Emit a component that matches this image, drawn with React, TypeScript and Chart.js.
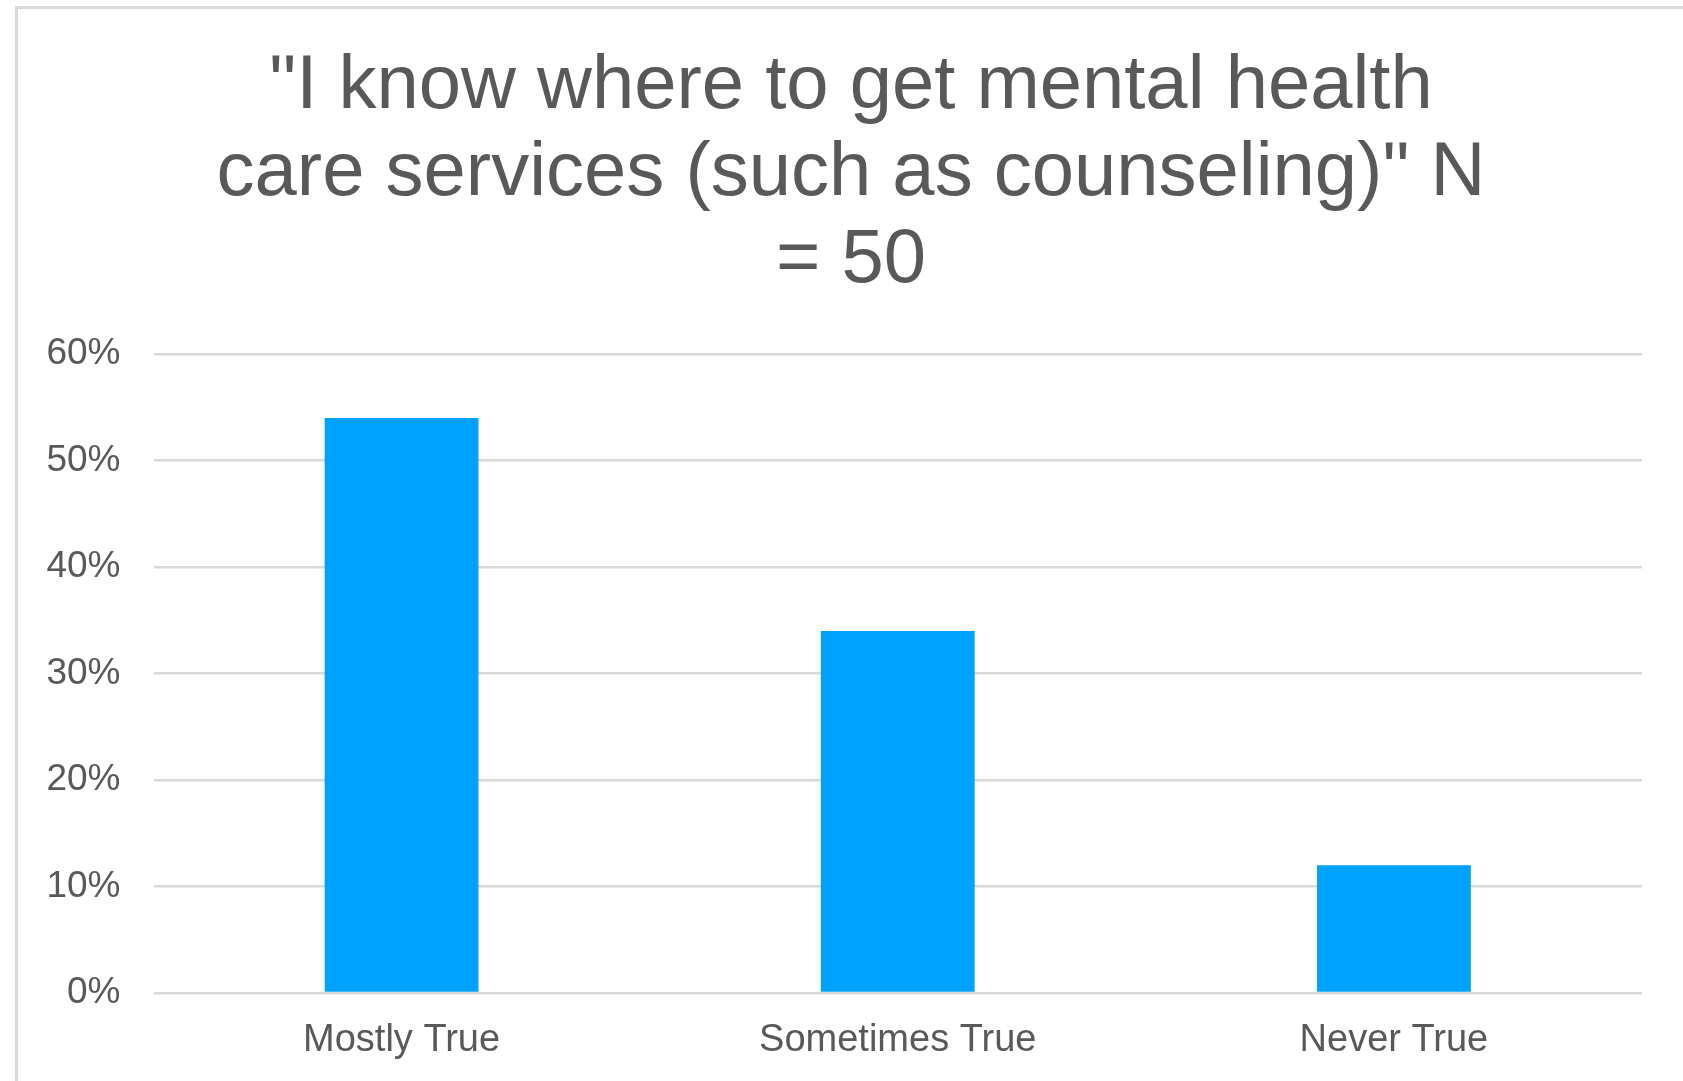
import React, { useEffect, useRef } from 'react';
import { Chart, registerables } from 'chart.js';

Chart.register(...registerables);

const categories = ['Mostly True', 'Sometimes True', 'Never True'];
const percentValues = [54, 34, 12];
const titleLines = [
  '"I know where to get mental health',
  'care services (such as counseling)" N',
  '= 50',
];
const yMin = 0;
const yMax = 60;
const yStep = 10;

const W = 1683;
const H = 1081;
const CW = 1702; // canvas slightly wider than the page: the chart frame runs off the right edge
const FONT = '"Liberation Sans", Arial, Helvetica, sans-serif';
const TEXT = '#595959';
const GRID = '#d9d9d9';

export default function App() {
  const ref = useRef<HTMLCanvasElement | null>(null);

  useEffect(() => {
    if (!ref.current) return;
    const frame = {
      id: 'frame',
      beforeDraw(chart: any) {
        const ctx = chart.ctx;
        ctx.save();
        ctx.fillStyle = '#ffffff';
        ctx.fillRect(0, 0, CW, H);
        ctx.strokeStyle = GRID;
        ctx.lineWidth = 3;
        ctx.strokeRect(16.5, 7.5, CW + 40, H + 40);
        ctx.restore();
      },
    };
    const chart = new Chart(ref.current, {
      type: 'bar',
      data: {
        labels: categories,
        datasets: [
          {
            data: percentValues,
            backgroundColor: '#00A2FF',
            borderWidth: 0,
            barPercentage: 0.31,
            categoryPercentage: 1,
            yAxisID: 'y',
          },
        ],
      },
      options: {
        responsive: false,
        animation: false,
        devicePixelRatio: 1,
        layout: { padding: { left: 0, right: 0, top: 0, bottom: 0 } },
        plugins: {
          legend: { display: false },
          tooltip: { enabled: false },
          title: {
            display: true,
            text: titleLines,
            color: TEXT,
            font: { family: FONT, size: 76, weight: 'normal', lineHeight: 87 / 76 },
            padding: { top: 44, bottom: 49 },
          },
        },
        scales: {
          x: {
            grid: { display: false, drawTicks: false },
            border: { display: false },
            ticks: {
              color: TEXT,
              font: { family: FONT, size: 38 },
              padding: 25,
              maxRotation: 0,
            },
            afterFit(s: any) {
              s.height = 88;
            },
          },
          y: {
            position: 'left',
            min: yMin,
            max: yMax,
            grid: { color: GRID, lineWidth: 2.5, drawTicks: false },
            border: { display: false },
            ticks: {
              stepSize: yStep,
              color: TEXT,
              font: { family: FONT, size: 37 },
              padding: 33,
              callback: (v: any) => `${v}%`,
            },
            afterFit(s: any) {
              s.width = 153.5;
            },
          },
          yRight: {
            type: 'linear',
            position: 'right',
            display: true,
            min: yMin,
            max: yMax,
            grid: { display: false, drawTicks: false },
            border: { display: false },
            ticks: { display: false },
            afterFit(s: any) {
              s.width = 60;
            },
          },
        },
      },
      plugins: [frame],
    } as any);
    return () => chart.destroy();
  }, []);

  return (
    <div style={{ position: 'fixed', left: 0, top: 0, width: W, height: H, overflow: 'hidden', background: '#fff' }}>
      <canvas ref={ref} width={CW} height={H} style={{ display: 'block', width: CW, height: H }} />
    </div>
  );
}
